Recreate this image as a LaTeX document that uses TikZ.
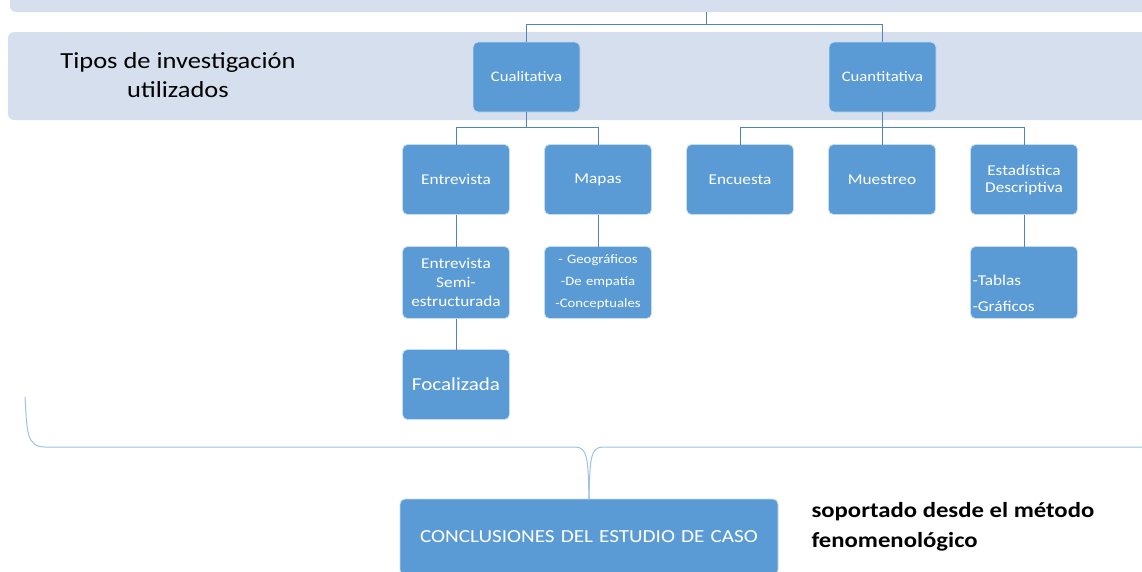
\documentclass[tikz,border=0pt]{standalone}
\usepackage{fontspec}
\setmainfont[FakeStretch=1.15]{Carlito}
\usetikzlibrary{positioning}
\definecolor{boxblue}{HTML}{5B9BD5}
\definecolor{bandblue}{HTML}{D5DFEE}
\definecolor{linkblue}{HTML}{4F84BC}
\definecolor{braceblue}{HTML}{9CC2E5}
\tikzset {
        boxnode/.style={align=center, inner sep=2pt, outer sep=0pt, rectangle, rounded corners=5pt, fill=boxblue, draw=white!65!boxblue, line width=0.8pt, text=white, minimum width=107pt, minimum height=70pt, text width=103pt},
        link/.style={draw=linkblue, line width=0.9pt},
        default/.style={}
}

\begin{document}
\begin{tikzpicture}[x=1pt, y=-1pt]
            \useasboundingbox (0,0) rectangle (1142,571);
            % bands
            \fill[bandblue, rounded corners=6pt] (10,-20) rectangle (1160,12);
            \fill[bandblue, rounded corners=6pt] (8,32) rectangle (1160,120);
            \node[align=center, font=\fontsize{23}{29}\selectfont] (Tipos) at (178,75) {
                Tipos de investigación\\utilizados
            };
            \coordinate (Top) at (706,12);
            \node[boxnode, font=\fontsize{14.5}{17}\selectfont] (Cualitativa) at (526.5,77) {
                Cualitativa
            };
            \node[boxnode, font=\fontsize{14.5}{17}\selectfont] (Cuantitativa) at (882.5,77) {
                Cuantitativa
            };
            % second row
            \node[boxnode, font=\fontsize{15}{17}\selectfont] (Entrevista) at (456,179.5) {
                Entrevista
            };
            \node[boxnode, right=35pt of Entrevista, font=\fontsize{15}{17}\selectfont] (Mapas) {
                Mapas
            };
            \node[boxnode, right=35pt of Mapas, font=\fontsize{15}{17}\selectfont] (Encuesta) {
                Encuesta
            };
            \node[boxnode, right=35pt of Encuesta, font=\fontsize{15}{17}\selectfont] (Muestreo) {
                Muestreo
            };
            \node[boxnode, right=35pt of Muestreo, font=\fontsize{15}{17}\selectfont] (Estadistica) {
                Estadística\\Descriptiva
            };
            % third row
            \node[boxnode, below=32pt of Entrevista, minimum height=72pt, font=\fontsize{15}{19}\selectfont] (Semi) {
                Entrevista\\Semi-\\estructurada
            };
            \node[boxnode, below=32pt of Mapas, minimum height=72pt, font=\fontsize{12.8}{22}\selectfont] (MapasTipos) {
                - Geográficos\\-De empatía\\-Conceptuales
            };
            \node[boxnode, below=32pt of Estadistica, minimum height=72pt, align=left, font=\fontsize{15}{26}\selectfont] (Tablas) {
                \\[6pt]-Tablas\\-Gráficos
            };
            \node[boxnode, below=31pt of Semi, font=\fontsize{18.3}{21}\selectfont] (Focalizada) {
                Focalizada
            };
            % conclusions
            \node[boxnode, minimum width=378pt, text width=370pt, minimum height=76pt, font=\fontsize{18.4}{21}\selectfont] (Conclusiones) at (589,537) {
                CONCLUSIONES DEL ESTUDIO DE CASO
            };
            \node[right=30pt of Conclusiones.north east, anchor=north west, yshift=0pt, align=left, font=\bfseries\fontsize{21.5}{30}\selectfont] (Soportado) {
                soportado desde el método\\fenomenológico
            };
            % connectors
            \draw[link] (Top) -- ++(0,12) -| (Cualitativa.north);
            \draw[link] (Top) -- ++(0,12) -| (Cuantitativa.north);
            \draw[link] (Cualitativa.south) -- ++(0,15) -| (Entrevista.north);
            \draw[link] (Cualitativa.south) -- ++(0,15) -| (Mapas.north);
            \draw[link] (Cuantitativa.south) -- ++(0,15) -| (Encuesta.north);
            \draw[link] (Cuantitativa.south) -- ++(0,15) -| (Muestreo.north);
            \draw[link] (Cuantitativa.south) -- ++(0,15) -| (Estadistica.north);
            \draw[link] (Entrevista.south) -- (Semi.north);
            \draw[link] (Semi.south) -- (Focalizada.north);
            \draw[link] (Mapas.south) -- (MapasTipos.north);
            \draw[link] (Estadistica.south) -- (Tablas.north);
            % brace
            \draw[braceblue, line width=1pt] (25,397) .. controls (27,430) and (26,447) .. (45,447)
                -- (575,447) .. controls (588,447) and (588,460) .. (Conclusiones.north);
            \draw[braceblue, line width=1pt] (Conclusiones.north) .. controls (590,460) and (590,447) .. (603,447)
                -- (1150,447);
        \end{tikzpicture}
\end{document}
